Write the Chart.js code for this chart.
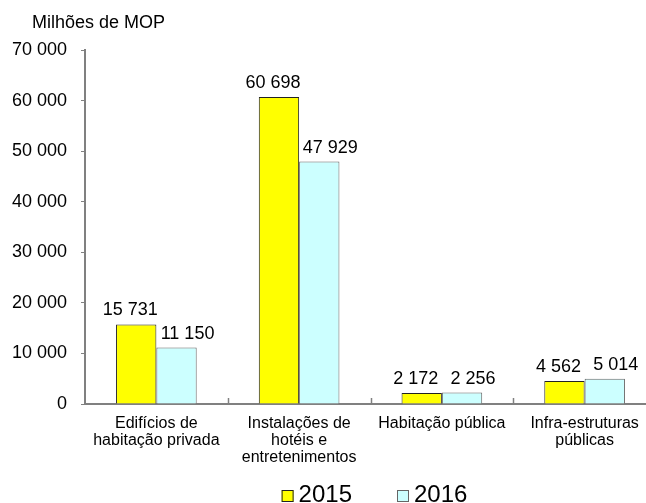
<!DOCTYPE html>
<html>
<head>
<meta charset="utf-8">
<script src="https://cdn.jsdelivr.net/npm/chart.js@4/dist/chart.umd.min.js"></script>
<style>
  html, body { margin: 0; padding: 0; background: #fff; }
  #wrap { width: 646px; height: 503px; }
</style>
</head>
<body>
<div id="wrap"><canvas id="chart" width="646" height="503"></canvas></div>
<script>
const categories = [
  ['Edifícios de', 'habitação privada'],
  ['Instalações de', 'hotéis e', 'entretenimentos'],
  'Habitação pública',
  ['Infra-estruturas', 'públicas']
]
const years = ['2015', '2016']
const values2015 = [15731, 60698, 2172, 4562]
const values2016 = [11150, 47929, 2256, 5014]
const yTicks = [0, 10000, 20000, 30000, 40000, 50000, 60000, 70000]
const unitLabel = 'Milhões de MOP'

const FONT = 'Arial, "Liberation Sans", sans-serif'

function fmt(n) {
  return n.toString().replace(/\B(?=(\d{3})+(?!\d))/g, ' ')
}

// the original plot runs a little past the right edge of the picture
const widenPlot = {
  id: 'widenPlot',
  afterLayout(chart) {
    const x = chart.scales.x
    const extra = 10
    chart.chartArea.right += extra
    chart.chartArea.width += extra
    x.right += extra
    x.width += extra
    x.configure()
  }
}

// value labels above each bar, excel puts them a bit off-centre
const valueLabels = {
  id: 'valueLabels',
  afterDatasetsDraw(chart) {
    const ctx = chart.ctx
    ctx.save()
    ctx.font = '18px ' + FONT
    ctx.fillStyle = '#000'
    ctx.textAlign = 'center'
    ctx.textBaseline = 'alphabetic'
    chart.data.datasets.forEach((ds, i) => {
      const shift = i == 0 ? -6 : 11
      chart.getDatasetMeta(i).data.forEach((bar, j) => {
        ctx.fillText(fmt(ds.data[j]), bar.x + shift, bar.y - 9)
      })
    })
    ctx.restore()
  }
}

// unit caption, small upward ticks between categories, and the legend
const extras = {
  id: 'extras',
  afterDraw(chart) {
    const ctx = chart.ctx
    const area = chart.chartArea
    const x = chart.scales.x
    ctx.save()

    ctx.font = '18px ' + FONT
    ctx.fillStyle = '#000'
    ctx.textBaseline = 'alphabetic'
    ctx.fillText(unitLabel, 32, 28)

    ctx.strokeStyle = '#808080'
    ctx.lineWidth = 1.5
    for (let i = 1; i < categories.length; i++) {
      const bx = Math.round((x.getPixelForValue(i - 1) + x.getPixelForValue(i)) / 2) + 0.5
      ctx.beginPath()
      ctx.moveTo(bx, area.bottom)
      ctx.lineTo(bx, area.bottom - 6)
      ctx.stroke()
    }

    ctx.font = '24px ' + FONT
    const box = 12
    const gap = 5
    const between = 45
    const widths = chart.data.datasets.map(ds => box + gap + ctx.measureText(ds.label).width)
    const total = widths.reduce((a, b) => a + b, 0) + between
    let lx = (area.left + area.right) / 2 + 4 - total / 2
    chart.data.datasets.forEach((ds, i) => {
      ctx.fillStyle = ds.backgroundColor
      ctx.fillRect(lx, 490, box, box)
      ctx.strokeStyle = ds.borderColor
      ctx.lineWidth = 1
      ctx.strokeRect(lx + 0.5, 490.5, box - 1, box - 1)
      ctx.fillStyle = '#000'
      ctx.fillText(ds.label, lx + box + gap, 502)
      lx += widths[i] + between
    })
    ctx.restore()
  }
}

new Chart(document.getElementById('chart'), {
  type: 'bar',
  data: {
    labels: categories,
    datasets: [
      {
        label: years[0],
        data: values2015,
        backgroundColor: '#FFFF00',
        borderColor: '#222222',
        borderWidth: 1
      },
      {
        label: years[1],
        data: values2016,
        backgroundColor: '#CCFFFF',
        borderColor: '#666666',
        borderWidth: 1
      }
    ]
  },
  options: {
    responsive: false,
    animation: false,
    events: [],
    categoryPercentage: 0.565,
    barPercentage: 1,
    layout: {
      padding: { left: 0, right: 0, top: 50, bottom: 26 }
    },
    plugins: {
      legend: { display: false },
      tooltip: { enabled: false },
      title: { display: false }
    },
    scales: {
      x: {
        grid: { display: false, drawTicks: false },
        border: { color: '#808080', width: 2 },
        ticks: {
          color: '#000',
          padding: 11,
          maxRotation: 0,
          autoSkip: false,
          font: { family: FONT, size: 16, lineHeight: 17 / 16 }
        }
      },
      y: {
        min: 0,
        max: 70000,
        afterBuildTicks(axis) {
          axis.ticks = yTicks.map(v => ({ value: v }))
        },
        afterFit(axis) {
          axis.width = 85
        },
        grid: {
          drawOnChartArea: false,
          drawTicks: true,
          tickLength: 4,
          color: '#808080'
        },
        border: { color: '#808080', width: 2 },
        ticks: {
          color: '#000',
          padding: 14,
          font: { family: FONT, size: 18 },
          callback: v => fmt(v)
        }
      }
    }
  },
  plugins: [widenPlot, valueLabels, extras]
})
</script>
</body>
</html>
